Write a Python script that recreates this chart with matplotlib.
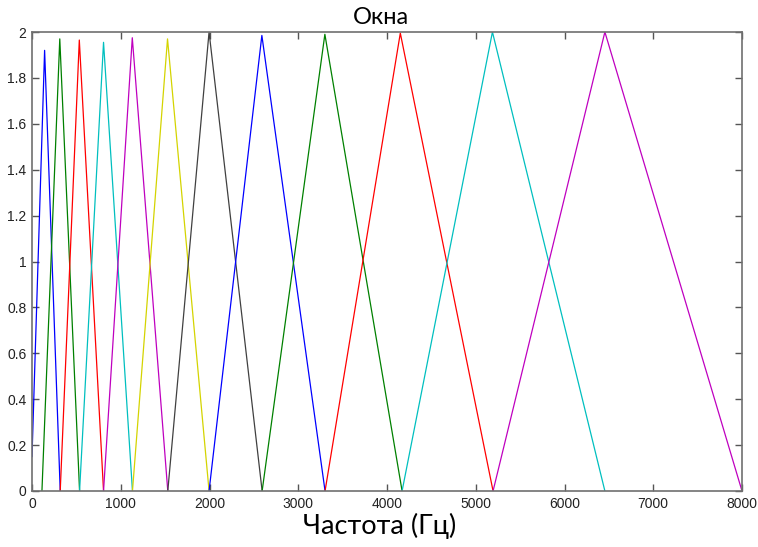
import matplotlib
matplotlib.use("Agg")
import matplotlib.pyplot as plt
from matplotlib import font_manager

# Triangular filter windows (Hz and amplitude)
left_edges = [0, 112, 318, 536, 806, 1132, 1530, 1995, 2593, 3302, 4170, 5195]
peaks = [142, 313, 533, 806, 1130, 1527, 1995, 2590, 3300, 4150, 5188, 6455]
right_edges = [318, 536, 806, 1132, 1530, 1995, 2593, 3302, 4170, 5195, 6455, 8000]
heights = [1.92, 1.97, 1.965, 1.955, 1.975, 1.97, 2.0, 1.985, 1.99, 1.995, 2.0, 2.0]
left_values = [0.15, 0, 0, 0, 0, 0, 0, 0, 0, 0, 0, 0]
colors = ["#0000ff", "#008000", "#ff0000", "#00bfbf", "#bf00bf", "#d4d400", "#404040",
          "#0000ff", "#008000", "#ff0000", "#00bfbf", "#bf00bf"]

xticks = [0, 1000, 2000, 3000, 4000, 5000, 6000, 7000, 8000]
yticks = [0, 0.2, 0.4, 0.6, 0.8, 1, 1.2, 1.4, 1.6, 1.8, 2]
ytick_labels = ["0", "0.2", "0.4", "0.6", "0.8", "1", "1.2", "1.4", "1.6", "1.8", "2"]

title = "Окна"
xlabel = "Частота (Гц)"

available = {f.name for f in font_manager.fontManager.ttflist}
tick_font = [f for f in ["Liberation Sans Narrow", "DejaVu Sans Condensed", "Liberation Sans"]
             if f in available] + ["DejaVu Sans"]
narrow = tick_font[0] in ("Liberation Sans Narrow", "DejaVu Sans Condensed")

fig = plt.figure(figsize=(7.58, 5.47), dpi=100)
ax = fig.add_axes([32 / 758, 56 / 547, 710 / 758, 459 / 547])

for l, p, r, h, lv, c in zip(left_edges, peaks, right_edges, heights, left_values, colors):
    ax.plot([l, p, r], [lv, h, 0], color=c, linewidth=0.9)

ax.set_xlim(0, 8000)
ax.set_ylim(0, 2)
ax.set_xticks(xticks)
ax.set_xticklabels([str(t) for t in xticks])
ax.set_yticks(yticks)
ax.set_yticklabels(ytick_labels)

for lab in ax.get_xticklabels() + ax.get_yticklabels():
    lab.set_family(tick_font)
    lab.set_fontsize(10.5 if narrow else 10)
    lab.set_color("#222222")

ax.tick_params(direction="in", length=5, width=1, color="#555555",
               top=True, right=True, pad=4)
for s in ax.spines.values():
    s.set_color("#707070")
    s.set_linewidth(1.2)

fig.text(381 / 758, 1 - 17 / 547, title, ha="center", va="center",
         fontsize=17, family=["Lato", "DejaVu Sans"])
fig.text(380 / 758, 1 - 526 / 547, xlabel, ha="center", va="center",
         fontsize=19.5, family=["Lato", "DejaVu Sans"])

fig.savefig("out.png", dpi=100)
